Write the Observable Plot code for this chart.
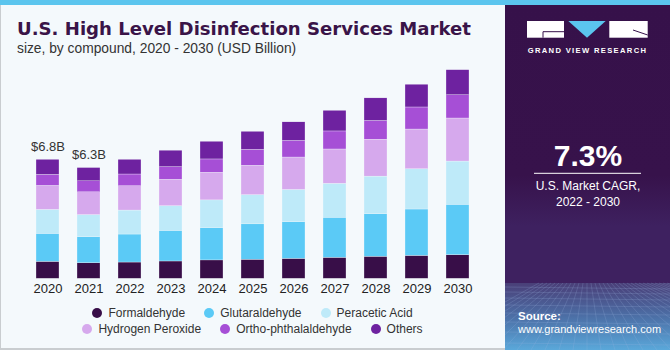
<!DOCTYPE html>
<html><head><meta charset="utf-8">
<script src="https://cdn.jsdelivr.net/npm/d3@7"></script>
<script src="https://cdn.jsdelivr.net/npm/@observablehq/plot@0.6"></script>
<style>
body{margin:0;background:#fff;}
#root{position:relative;width:670px;height:350px;background:#F4F9FC;overflow:hidden;font-family:"Liberation Sans",Arial,sans-serif;}
.stripe{position:absolute;left:0;top:0;width:670px;height:5px;background:#5BC5EE;z-index:5;}
.lborder{position:absolute;left:0;top:0;width:1px;height:350px;background:#C9CDD0;}
.bborder{position:absolute;left:0;top:348px;width:505px;height:2px;background:#C9CDD0;}
.title{position:absolute;left:17px;top:19.6px;font-family:"DejaVu Sans",sans-serif;font-size:18.1px;line-height:18px;font-weight:bold;color:#3A1448;white-space:nowrap;}
.subtitle{position:absolute;left:17px;top:42.4px;font-size:13.8px;line-height:13.8px;color:#333;white-space:nowrap;}
#chart{position:absolute;left:0;top:60px;}
#legend{position:absolute;left:0;top:304.7px;width:505px;font-size:12px;color:#333;}
#legend .row{display:flex;justify-content:center;height:16.3px;align-items:center;}
#legend .item{display:flex;align-items:center;margin:0 9.5px;white-space:nowrap;}
#legend .dot{width:10px;height:10px;border-radius:50%;margin-right:6px;}
#panel{position:absolute;left:505px;top:0;}
</style></head><body>
<div id="root">
  <div class="lborder"></div>
  <div class="bborder"></div>
  <div class="title">U.S. High Level Disinfection Services Market</div>
  <div class="subtitle">size, by compound, 2020 - 2030 (USD Billion)</div>
  <div id="chart"></div>
  <div id="legend"></div>
  <svg id="panel" width="165" height="350" xmlns="http://www.w3.org/2000/svg">
    <defs>
      <linearGradient id="pg" x1="0" y1="0" x2="0" y2="1">
        <stop offset="0" stop-color="#36114A"/>
        <stop offset="0.62" stop-color="#37124B"/>
        <stop offset="0.80" stop-color="#3E2160"/>
      </linearGradient>
      <linearGradient id="bg2" x1="0" y1="0" x2="0" y2="1">
        <stop offset="0" stop-color="#4A3F78"/>
        <stop offset="0.5" stop-color="#4C6FA6"/>
        <stop offset="1" stop-color="#5AA8DA"/>
      </linearGradient>
    </defs>
    <rect x="0" y="0" width="165" height="283" fill="url(#pg)"/>
    <rect x="0" y="283" width="165" height="67" fill="url(#bg2)"/>
    <g id="grid" stroke="#9FB6E0" stroke-opacity="0.35" stroke-width="0.6" fill="none"></g>
    <rect x="22" y="21" width="37" height="16.7" fill="#fff"/>
    <path d="M38 31.7 H59 M38 31.7 V37.7" stroke="#36114A" stroke-width="1" fill="none"/>
    <path d="M63.3 21 L100.7 21 L82 37.7 Z" fill="#5BC5EE"/>
    <rect x="104.3" y="21" width="38.4" height="16.7" fill="#fff"/>
    <path d="M128 30 L142.7 35" stroke="#36114A" stroke-width="1" fill="none"/>
    <text x="82.5" y="53.3" text-anchor="middle" fill="#fff" font-size="7.6" font-weight="bold" letter-spacing="1.35">GRAND VIEW RESEARCH</text>
    <text x="83" y="165.7" text-anchor="middle" fill="#fff" font-size="30" font-weight="bold">7.3%</text>
    <line x1="29" x2="136" y1="173.3" y2="173.3" stroke="#fff" stroke-width="1"/>
    <text x="83" y="189.5" text-anchor="middle" fill="#fff" font-size="12">U.S. Market CAGR,</text>
    <text x="83" y="205.5" text-anchor="middle" fill="#fff" font-size="12">2022 - 2030</text>
    <text x="13" y="319.5" fill="#fff" font-size="11.5" font-weight="bold">Source:</text>
    <text x="13" y="333" fill="#fff" font-size="11">www.grandviewresearch.com</text>
  </svg>
  <div class="stripe"></div>
</div>
<script>
const years = ["2020","2021","2022","2023","2024","2025","2026","2027","2028","2029","2030"];
const compounds = ["Formaldehyde","Glutaraldehyde","Peracetic Acid","Hydrogen Peroxide","Ortho-phthalaldehyde","Others"];
const colors = ["#380E48","#5BCAF6","#BEEAF9","#D6A9ED","#A64FD6","#6E22A0"];
const formaldehyde     = [0.97,0.89,0.93,0.99,1.05,1.09,1.14,1.20,1.26,1.31,1.35];
const glutaraldehyde   = [1.60,1.49,1.60,1.75,1.85,2.02,2.09,2.29,2.43,2.65,2.88];
const peraceticAcid    = [1.37,1.26,1.37,1.41,1.58,1.67,1.85,1.94,2.15,2.30,2.47];
const hydrogenPeroxide = [1.37,1.30,1.39,1.51,1.58,1.68,1.85,1.96,2.11,2.27,2.46];
const orthoPhthal      = [0.63,0.63,0.67,0.72,0.76,0.91,0.95,1.03,1.07,1.26,1.33];
const others           = [0.86,0.76,0.84,0.94,1.01,1.03,1.06,1.18,1.29,1.30,1.43];
const labelYears = ["2020","2021"];
const labelTexts = ["$6.8B","$6.3B"];

const seriesValues = [formaldehyde, glutaraldehyde, peraceticAcid, hydrogenPeroxide, orthoPhthal, others];
const rows = [];
compounds.forEach((c, j) => years.forEach((y, i) => rows.push({year: y, compound: c, value: seriesValues[j][i]})));
const totals = years.map((y, i) => d3.sum(seriesValues, s => s[i]));
const labels = labelYears.map((y, k) => ({year: y, total: totals[years.indexOf(y)], text: labelTexts[k]}));

const chart = Plot.plot({
  width: 505, height: 240,
  marginLeft: 13, marginRight: 12, marginTop: 8.3, marginBottom: 21.7,
  style: {fontFamily: '"Liberation Sans", Arial, sans-serif', fontSize: "13px", color: "#222", background: "transparent"},
  x: {domain: years, padding: 0.4286, label: null, tickSize: 0, tickPadding: 4.5},
  y: {domain: [0, 12], axis: null},
  color: {domain: compounds, range: colors},
  marks: [
    Plot.barY(rows, Plot.stackY({x: "year", y: "value", fill: "compound", stroke: "#F4F9FC", strokeWidth: 0.3})),
    Plot.text(labels, {x: "year", y: "total", text: "text", dy: -9, lineAnchor: "bottom", fontSize: 13, fill: "#333"})
  ]
});
document.getElementById("chart").appendChild(chart);

// legend
const legend = document.getElementById("legend");
[[0,1,2],[3,4,5]].forEach(idx => {
  const row = document.createElement("div");
  row.className = "row";
  idx.forEach(i => {
    const it = document.createElement("div");
    it.className = "item";
    it.innerHTML = `<span class="dot" style="background:${colors[i]}"></span><span>${compounds[i]}</span>`;
    row.appendChild(it);
  });
  legend.appendChild(row);
});

// decorative grid in panel
const g = document.getElementById("grid");
const ns = "http://www.w3.org/2000/svg";
[287,292,298,305,313,322,332,343].forEach(y => {
  const l = document.createElementNS(ns, "line");
  l.setAttribute("x1", 0); l.setAttribute("x2", 165); l.setAttribute("y1", y); l.setAttribute("y2", y + 2);
  g.appendChild(l);
});
for (let k = -12; k <= 24; k++) {
  const l = document.createElementNS(ns, "line");
  l.setAttribute("x1", 82 + k * 4); l.setAttribute("y1", 283);
  l.setAttribute("x2", 82 + k * 14); l.setAttribute("y2", 350);
  g.appendChild(l);
}
</script>
</body></html>
